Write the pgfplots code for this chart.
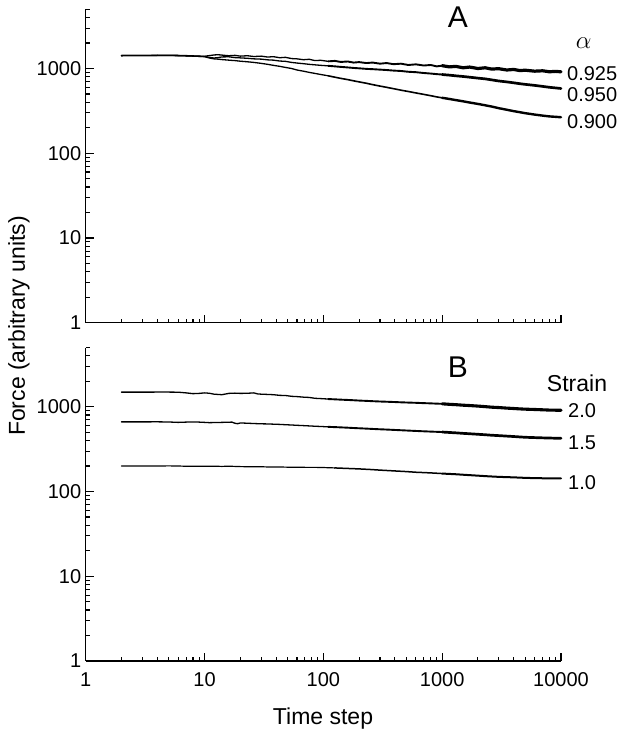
\documentclass[border=0pt]{standalone}
\usepackage{pgfplots}
\pgfplotsset{compat=1.18}
\usepackage{fontspec}
\setmainfont{Liberation Sans}
\tikzset{curvelab/.style={font=\fontsize{20}{22}\selectfont, inner sep=0pt, anchor=west}}
\pgfplotsset{
  segA/.style={black, line width=1.3pt, line join=round, line cap=round},
  segB/.style={black, line width=1.9pt, line join=round, line cap=round},
  segC/.style={black, line width=2.7pt, line join=round, line cap=round},
}
\begin{document}
\begin{tikzpicture}[x=1pt,y=1pt]
\useasboundingbox (0,0) rectangle (624,736);
% ---------------- Panel A ----------------
\begin{axis}[
    at={(85.7pt,413.3pt)}, anchor=south west,
    scale only axis, width=475.3pt, height=313.4pt,
    xmode=log, ymode=log, xmin=1, xmax=10000, ymin=1, ymax=5000,
    axis x line*=bottom, axis y line*=left,
    axis line style={line width=1.3pt},
    tick align=inside,
    major tick length=8pt, minor tick length=4pt,
    tick style={line width=1.1pt, black},
    xtick={1,10,100,1000,10000}, xticklabels={},
    minor xtick={2,3,4,5,6,7,8,9,20,30,40,50,60,70,80,90,200,300,400,500,600,700,800,900,2000,3000,4000,5000,6000,7000,8000,9000},
    ytick={1,10,100,1000}, yticklabels={\mbox{1},\mbox{10},\mbox{100},\mbox{1000}},
    minor ytick={2,3,4,5,6,7,8,9,20,30,40,50,60,70,80,90,200,300,400,500,600,700,800,900,2000,3000,4000,5000},
    yticklabel style={font=\fontsize{20}{22}\selectfont, xshift=-1pt},
    clip=false,
]
% alpha = 0.925
\addplot[segA] coordinates {
(2,1420) (3,1425) (4,1430) (5,1432) (6,1428) (7,1420) (8,1410) (9,1400) (10,1395)
(11,1420) (12,1445) (13,1455) (14,1440) (16,1415) (18,1430) (20,1400) (23,1415)
(26,1385) (30,1400) (34,1365) (38,1380) (43,1340) (48,1355) (54,1310) (60,1300)
(68,1270) (76,1285) (85,1240) (95,1250) (110,1215)};
\addplot[segB] coordinates {
(110,1215) (125,1230) (140,1195) (160,1210)
(180,1175) (200,1190) (230,1160) (260,1175) (300,1140) (340,1160) (390,1125)
(450,1140) (520,1100) (600,1120) (700,1085) (800,1100) (900,1060) (1000,1080)};
\addplot[segC, line width=3.2pt] coordinates {
(1000,1080) (1150,1045) (1300,1060) (1500,1020) (1700,1040) (2000,1000) (2300,1020) (2600,985)
(3000,995) (3500,960) (4000,975) (4500,945) (5000,955) (6000,930) (7000,940)
(8000,915) (9000,925) (10000,914)};
% alpha = 0.950
\addplot[segA] coordinates {
(2,1420) (3,1424) (4,1428) (5,1425) (6,1420) (7,1410) (8,1400) (9,1392) (10,1385)
(11,1350) (12,1330) (13,1345) (14,1370) (16,1375) (18,1345) (20,1335) (23,1320)
(26,1300) (30,1290) (34,1265) (38,1255) (43,1225) (48,1215) (54,1180) (60,1160)
(68,1140) (76,1120) (85,1105) (95,1090) (110,1075)};
\addplot[segB] coordinates {
(110,1075) (125,1060) (140,1045) (160,1030)
(180,1015) (200,1005) (230,990) (260,982) (300,970) (340,960) (390,945)
(450,935) (520,915) (600,905) (700,885) (800,872) (900,858) (1000,849)};
\addplot[segC] coordinates {
(1000,849) (1150,835) (1300,820) (1500,805) (1700,790) (2000,770) (2300,755) (2600,735)
(3000,712) (3500,695) (4000,678) (4500,662) (5000,650) (6000,632) (7000,615)
(8000,600) (9000,590) (10000,581)};
% alpha = 0.900
\addplot[segA] coordinates {
(2,1420) (3,1424) (4,1428) (5,1425) (6,1418) (7,1410) (8,1400) (9,1390) (10,1380)
(11,1330) (12,1300) (13,1290) (14,1275) (16,1255) (18,1240) (20,1220) (23,1200)
(26,1180) (30,1150) (34,1120) (38,1090) (43,1060) (48,1030) (54,1000) (60,960)
(68,930) (76,900) (85,875) (95,850) (110,820)};
\addplot[segB, line width=1.6pt] coordinates {
(110,820) (125,790) (140,765) (160,740)
(180,715) (200,695) (230,670) (260,645) (300,620) (340,600) (390,578)
(450,555) (520,535) (600,515) (700,495) (800,478) (900,462) (1000,451)};
\addplot[segC, line width=2.4pt] coordinates {
(1000,451) (1150,437) (1300,424) (1500,410) (1700,397) (2000,382) (2300,368) (2600,356)
(3000,340) (3500,326) (4000,314) (4500,305) (5000,297) (6000,286) (7000,278)
(8000,272) (9000,269) (10000,266)};
\node[font=\fontsize{30}{32}\selectfont] at (rel axis cs:0.783,0.975) {A};
\node[font=\fontsize{26}{28}\selectfont] at (rel axis cs:1.048,0.892) {$\alpha$};
\node[curvelab] at (rel axis cs:1.0126,0.7935) {0.925};
\node[curvelab] at (rel axis cs:1.0126,0.729) {0.950};
\node[curvelab] at (rel axis cs:1.0126,0.641) {0.900};
\end{axis}
% ---------------- Panel B ----------------
\begin{axis}[
    at={(85.7pt,75pt)}, anchor=south west,
    scale only axis, width=475.3pt, height=313.4pt,
    xmode=log, ymode=log, xmin=1, xmax=10000, ymin=1, ymax=5000,
    axis x line*=bottom, axis y line*=left,
    axis line style={line width=1.3pt},
    tick align=inside,
    major tick length=8pt, minor tick length=4pt,
    tick style={line width=1.1pt, black},
    xtick={1,10,100,1000,10000}, xticklabels={\mbox{1},\mbox{10},\mbox{100},\mbox{1000},\mbox{10000}},
    minor xtick={2,3,4,5,6,7,8,9,20,30,40,50,60,70,80,90,200,300,400,500,600,700,800,900,2000,3000,4000,5000,6000,7000,8000,9000},
    ytick={1,10,100,1000}, yticklabels={\mbox{1},\mbox{10},\mbox{100},\mbox{1000}},
    minor ytick={2,3,4,5,6,7,8,9,20,30,40,50,60,70,80,90,200,300,400,500,600,700,800,900,2000,3000,4000,5000},
    yticklabel style={font=\fontsize{20}{22}\selectfont, xshift=-1pt},
    xticklabel style={font=\fontsize{20}{22}\selectfont, yshift=-8pt},
    clip=false,
]
% strain 2.0
\addplot[segA] coordinates {
(2,1490) (3,1490) (4,1492) (5,1492) (6,1488) (7,1460) (8,1430) (9,1440) (10,1460)
(11,1445) (12,1410) (14,1390) (16,1440) (18,1450) (20,1440) (23,1445) (26,1460)
(28,1420) (30,1410) (34,1400) (38,1390) (43,1365) (48,1360) (54,1330) (60,1320)
(68,1300) (76,1290) (85,1260) (95,1250) (110,1235)};
\addplot[segB] coordinates {
(110,1235) (125,1225) (140,1215) (160,1205)
(180,1195) (200,1185) (230,1175) (260,1165) (300,1155) (340,1148) (390,1140)
(450,1130) (520,1122) (600,1115) (700,1105) (800,1098) (900,1090) (1000,1085)};
\addplot[segC, line width=3.1pt] coordinates {
(1000,1085) (1150,1070) (1300,1060) (1500,1045) (1700,1035) (2000,1020) (2300,1005) (2600,990)
(3000,980) (3500,965) (4000,955) (4500,945) (5000,938) (6000,930) (7000,922)
(8000,915) (9000,912) (10000,910)};
% strain 1.5
\addplot[segA] coordinates {
(2,664) (3,664) (4,665) (5,662) (6,655) (7,660) (8,663) (9,660) (10,655)
(11,650) (12,652) (14,655) (16,658) (17,660) (18,640) (19,632) (20,645) (23,640)
(26,635) (30,630) (34,628) (38,624) (43,620) (48,615) (54,610) (60,605)
(68,600) (76,595) (85,590) (95,586) (110,580)};
\addplot[segB] coordinates {
(110,580) (125,576) (140,572) (160,567)
(180,562) (200,558) (230,553) (260,548) (300,543) (340,539) (390,534)
(450,529) (520,524) (600,519) (700,514) (800,510) (900,507) (1000,504)};
\addplot[segC] coordinates {
(1000,504) (1150,498) (1300,493) (1500,486) (1700,481) (2000,474) (2300,468) (2600,462)
(3000,457) (3500,451) (4000,446) (4500,441) (5000,437) (6000,433) (7000,430)
(8000,428) (9000,426) (10000,425)};
% strain 1.0
\addplot[segA, line width=1.2pt] coordinates {
(2,200) (3,200) (4,200) (5,201) (6,200) (7,199) (8,199) (10,199) (12,199)
(14,198) (16,199) (18,198) (20,197) (25,196) (30,196) (35,195) (40,195)
(50,194) (60,194) (70,193) (85,193) (100,192) (125,190)};
\addplot[segB, line width=1.5pt] coordinates {
(125,190) (150,188) (200,185)
(250,182) (300,179) (400,175) (500,172) (600,169) (800,166) (1000,163)};
\addplot[segC, line width=2pt] coordinates {
(1000,163) (1300,160) (1600,157) (2000,154) (2500,151) (3000,149) (4000,147) (5000,145)
(6000,144) (8000,143) (10000,143)};
\node[font=\fontsize{30}{32}\selectfont] at (rel axis cs:0.783,0.939) {B};
\node[font=\fontsize{23}{25}\selectfont] at (rel axis cs:1.0337,0.887) {Strain};
\node[curvelab] at (rel axis cs:1.0147,0.798) {2.0};
\node[curvelab] at (rel axis cs:1.0147,0.6966) {1.5};
\node[curvelab] at (rel axis cs:1.0147,0.570) {1.0};
\end{axis}
\node[rotate=90, font=\fontsize{23}{25}\selectfont] at (19,410) {Force (arbitrary units)};
\node[font=\fontsize{23}{25}\selectfont] at (323,17) {Time step};
\end{tikzpicture}
\end{document}
